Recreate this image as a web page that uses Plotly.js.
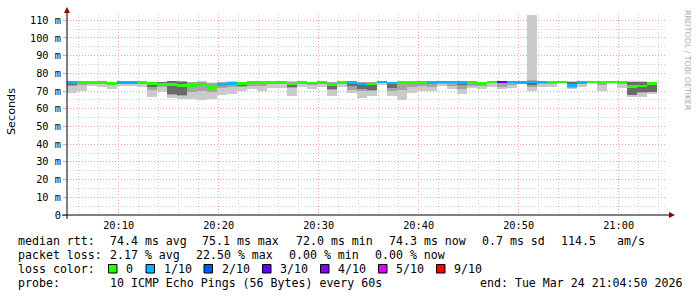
<!DOCTYPE html>
<html><head><meta charset="utf-8">
<script src="https://cdn.plot.ly/plotly-3.0.1.min.js"></script>
<style>html,body{margin:0;padding:0;background:#fff;} #chart{width:697px;height:297px;}</style>
</head><body><div id="chart"></div>
<script>
// ---- data (ms), one value per 1-minute step ----
const startTime = '2026-03-24 20:04:50';
const endTime = '2026-03-24 21:04:50';
const stepSeconds = 60;
const median = [74.7,74.8,74.8,74.7,74.3,74.9,74.6,74.9,74.2,73.7,
  73.5,73.3,73.0,73.9,72.0,73.9,74.3,74.3,74.7,74.8,
  75.0,75.0,74.0,75.0,74.5,75.0,73.9,75.0,74.8,74.0,
  74.0,75.1,74.5,75.1,74.6,75.0,74.8,75.1,75.1,74.6,
  74.6,74.2,75.1,75.1,75.1,74.6,75.1,75.1,75.1,75.1,
  72.9,74.6,75.1,75.1,75.1,75.1,72.6,72.8,74.3];
const lossCount = [1,0,0,0,0,1,1,0,0,0,
  0,0,0,0,0,1,1,0,0,0,
  0,0,0,0,0,0,0,0,1,1,
  0,1,1,0,0,0,1,1,1,1,
  0,0,0,3,1,1,1,1,0,0,
  1,1,0,0,0,0,0,0,0];
const pingMin = [68.8,69.8,73.1,72.4,71.3,73.1,72.8,72.4,66.8,69.2,
  66.0,65.5,65.6,65.0,65.5,67.5,68.5,70.1,71.1,69.8,
  71.5,71.8,67.2,72.4,71.4,72.4,67.2,72.0,68.8,65.8,
  67.0,73.5,67.0,65.0,68.8,69.9,69.9,72.8,70.9,68.6,
  71.5,71.3,72.4,71.4,71.6,74.0,69.9,72.4,72.4,74.5,
  71.3,72.4,74.5,69.9,74.6,71.5,66.4,66.6,68.5];
const pingMax = [75.6,75.5,75.4,75.4,75.0,75.6,75.4,75.6,75.2,75.3,
  75.8,75.6,75.2,75.4,74.6,75.3,75.4,75.3,75.5,75.6,
  75.7,75.7,75.4,75.7,75.3,75.7,75.3,75.7,75.5,75.3,
  75.3,75.9,75.2,75.9,75.4,75.7,75.5,75.9,75.8,75.3,
  75.3,75.2,75.8,75.8,75.8,75.4,112.8,75.8,75.8,75.8,
  75.6,75.4,75.8,75.8,75.8,75.8,75.4,75.5,75.3];
const midLow = [72.8,73.6,74.2,73.9,73.3,74.2,73.8,74.0,70.5,72.0,
  67.5,67.0,69.5,70.0,69.5,71.5,72.0,72.3,73.0,73.0,
  74.0,74.0,71.5,74.0,73.5,74.2,70.5,74.0,70.5,69.9,
  69.8,74.5,69.8,70.5,72.5,73.0,72.5,74.0,73.0,71.0,
  73.0,72.8,74.3,72.5,73.5,74.2,72.2,74.0,73.8,74.7,
  71.8,73.7,74.7,73.5,74.7,73.8,67.7,69.0,69.5];
const midHigh = [75.3,75.2,75.2,75.1,74.8,75.3,75.1,75.3,75.0,75.1,
  75.6,75.4,74.9,75.2,74.4,75.1,75.2,75.1,75.2,75.3,
  75.4,75.4,75.1,75.4,75.1,75.4,75.1,75.4,75.3,75.1,
  75.1,75.6,75.0,75.6,75.1,75.4,75.3,75.6,75.5,75.1,
  75.1,75.0,75.5,75.5,75.5,75.1,76.5,75.5,75.5,75.5,
  75.3,75.1,75.5,75.5,75.5,75.5,75.1,75.3,75.1];
const coreLow = [73.6,74.2,74.3,74.2,73.8,74.4,74.1,74.4,72.5,73.0,
  68.5,68.0,72.4,73.2,71.4,73.2,73.6,73.0,74.1,74.2,
  74.4,74.4,72.5,74.4,73.9,74.4,71.0,74.4,73.0,71.0,
  70.5,74.6,71.5,74.5,74.0,74.4,74.2,74.5,74.5,73.5,
  74.0,73.6,74.5,74.5,74.5,74.0,73.5,74.5,74.5,74.5,
  72.0,74.0,74.5,74.5,74.5,74.5,68.0,69.5,69.5];
const coreHigh = [75.0,75.1,75.1,75.0,74.6,75.2,74.9,75.2,74.5,75.0,
  75.5,75.2,73.3,74.2,72.3,74.2,74.6,75.0,75.0,75.1,
  75.3,75.3,74.3,75.3,74.8,75.3,74.2,75.3,75.1,74.3,
  74.3,75.4,74.8,75.4,74.9,75.3,75.1,75.4,75.4,74.9,
  74.9,74.5,75.4,75.4,75.4,74.9,75.4,75.4,75.4,75.4,
  75.0,74.9,75.4,75.4,75.4,75.4,75.0,75.0,74.6];
const lossLabels = ['0','1/10','2/10','3/10','4/10','5/10','9/10'];
const lossThresholds = [0,1,2,3,4,5,9];
const yTickVals = [0,10,20,30,40,50,60,70,80,90,100,110];
const yTickText = ['0','10 m','20 m','30 m','40 m','50 m','60 m','70 m','80 m','90 m','100 m','110 m'];
const legendLines = [
  ['median rtt:', '74.4 ms avg', '75.1 ms max', '72.0 ms min', '74.3 ms now', '0.7 ms sd', '114.5', 'am/s'],
  ['packet loss:', '2.17 % avg', '22.50 % max', '0.00 % min', '0.00 % now'],
  ['probe:', '10 ICMP Echo Pings (56 Bytes) every 60s', 'end: Tue Mar 24 21:04:50 2026']
];

// ---- styles / layout constants ----
const lossColors = ['#26ff00','#00b8ff','#0059ff','#5e00ff','#7e00ff','#dd00ff','#ff0000'];
const W = 697, H = 297, L = 67, R = 667, T = 14, B = 215;
const X = p => (p - L) / (R - L);
const Y = p => (B - p) / (B - T);
const MONO = 'DejaVu Sans Mono';

function toDate(offsetSec) {
  const base = Date.UTC(2026, 2, 24, 20, 4, 50);
  return new Date(base + offsetSec * 1000).toISOString().replace('T', ' ').replace('Z', '').slice(0, 19);
}
const xs = median.map((_, i) => toDate((i + 0.5) * stepSeconds));
const colorFor = n => { let k = 0; lossThresholds.forEach((t, j) => { if (n >= t) k = j; }); return lossColors[k]; };

function band(lo, hi, color) {
  return { type: 'bar', x: xs, base: lo, y: hi.map((h, i) => h - lo[i]), width: stepSeconds * 1000,
    marker: { color: color, line: { width: 0 } }, hoverinfo: 'skip', showlegend: false };
}
const medHalf = 0.8;
const traces = [
  band(pingMin, pingMax, '#cacaca'),
  band(midLow, midHigh, '#a4a4a4'),
  band(coreLow, coreHigh, '#6a6a6a'),
  { type: 'bar', x: xs, base: median.map(m => m - medHalf), y: median.map(() => 2 * medHalf),
    width: stepSeconds * 1000, marker: { color: lossCount.map(colorFor), line: { width: 0 } },
    hoverinfo: 'skip', showlegend: false }
];

const majorGrid = '#e9a3a3', minorGrid = '#cfcfcf', dash = '1px,2px';
const annotations = [];
const shapes = [];
function txt(x, y, s, opts) {
  annotations.push(Object.assign({ xref: 'paper', yref: 'paper', x: X(x), y: Y(y), xanchor: 'left', yanchor: 'middle',
    text: s.replace(/ /g, '\u00a0'), showarrow: false, font: { family: MONO, size: 11.6, color: '#000' } }, opts || {}));
}
// legend text rows
const row1X = [16, 108, 200, 294, 387, 480, 559, 615];
legendLines[0].forEach((s, i) => txt(row1X[i], 241, s));
const row2X = [16, 108, 194, 287, 373];
legendLines[1].forEach((s, i) => txt(row2X[i], 255, s));
txt(16, 269, 'loss color:');
const boxX = [108.5, 146, 204, 262.5, 320.5, 378.5, 436.5];
lossLabels.forEach((lab, i) => {
  shapes.push({ type: 'rect', xref: 'paper', yref: 'paper', x0: X(boxX[i]), x1: X(boxX[i] + 8.5), y0: Y(273), y1: Y(264.5),
    fillcolor: lossColors[i], line: { color: '#000', width: 1 } });
  txt(boxX[i] + 15.5, 269, lab);
});
const row4X = [16, 108, 478];
legendLines[2].forEach((s, i) => txt(row4X[i], 283, s));
// axis title and watermark
annotations.push({ xref: 'paper', yref: 'paper', x: X(11), y: Y(112), text: 'Seconds', textangle: -90, showarrow: false,
  xanchor: 'center', yanchor: 'middle', font: { family: 'DejaVu Sans', size: 11.2, color: '#000' } });
annotations.push({ xref: 'paper', yref: 'paper', x: X(687), y: Y(60), text: 'RRDTOOL / TOBI OETIKER', textangle: 90, showarrow: false,
  xanchor: 'center', yanchor: 'middle', font: { family: 'DejaVu Sans', size: 7.8, color: '#a8a8a8' } });
// axis extensions and arrows
shapes.push({ type: 'line', xref: 'paper', yref: 'paper', x0: X(62), x1: X(670), y0: 0, y1: 0, line: { color: '#000', width: 1 } });
shapes.push({ type: 'line', xref: 'paper', yref: 'paper', x0: 0, x1: 0, y0: Y(219), y1: Y(10), line: { color: '#000', width: 1 } });
shapes.push({ type: 'path', xref: 'paper', yref: 'paper', fillcolor: '#8b0000', line: { width: 0 },
  path: `M ${X(669)} ${Y(212)} L ${X(675)} ${Y(215)} L ${X(669)} ${Y(218)} Z` });
shapes.push({ type: 'path', xref: 'paper', yref: 'paper', fillcolor: '#8b0000', line: { width: 0 },
  path: `M ${X(64)} ${Y(13)} L ${X(67)} ${Y(7)} L ${X(70)} ${Y(13)} Z` });

const layout = {
  width: W, height: H, margin: { l: L, r: W - R, t: T, b: H - B },
  paper_bgcolor: '#fff', plot_bgcolor: '#fff',
  barmode: 'overlay', bargap: 0, showlegend: false,
  font: { family: MONO, size: 10.3, color: '#000' },
  xaxis: { type: 'date', range: [startTime, endTime], tickformat: '%H:%M', tick0: '2026-03-24 20:10:00', dtick: 600000,
    showgrid: true, gridcolor: majorGrid, griddash: dash, gridwidth: 1, zeroline: false, showline: false,
    ticks: '', ticklabelstandoff: 3, tickfont: { family: MONO, size: 10.3, color: '#000' },
    minor: { dtick: 120000, showgrid: true, gridcolor: minorGrid, griddash: dash, gridwidth: 1 } },
  yaxis: { range: [0, 113.5], tickmode: 'array', tickvals: yTickVals, ticktext: yTickText,
    showgrid: true, gridcolor: majorGrid, griddash: dash, gridwidth: 1, zeroline: false, showline: false,
    ticks: 'outside', ticklen: 3, tickcolor: majorGrid, tickfont: { family: MONO, size: 10.3, color: '#000' },
    minor: { tickmode: 'linear', tick0: 0, dtick: 5, showgrid: true, gridcolor: minorGrid, griddash: dash, gridwidth: 1 } },
  annotations: annotations, shapes: shapes
};
Plotly.newPlot('chart', traces, layout, { displayModeBar: false, staticPlot: true });
</script></body></html>
